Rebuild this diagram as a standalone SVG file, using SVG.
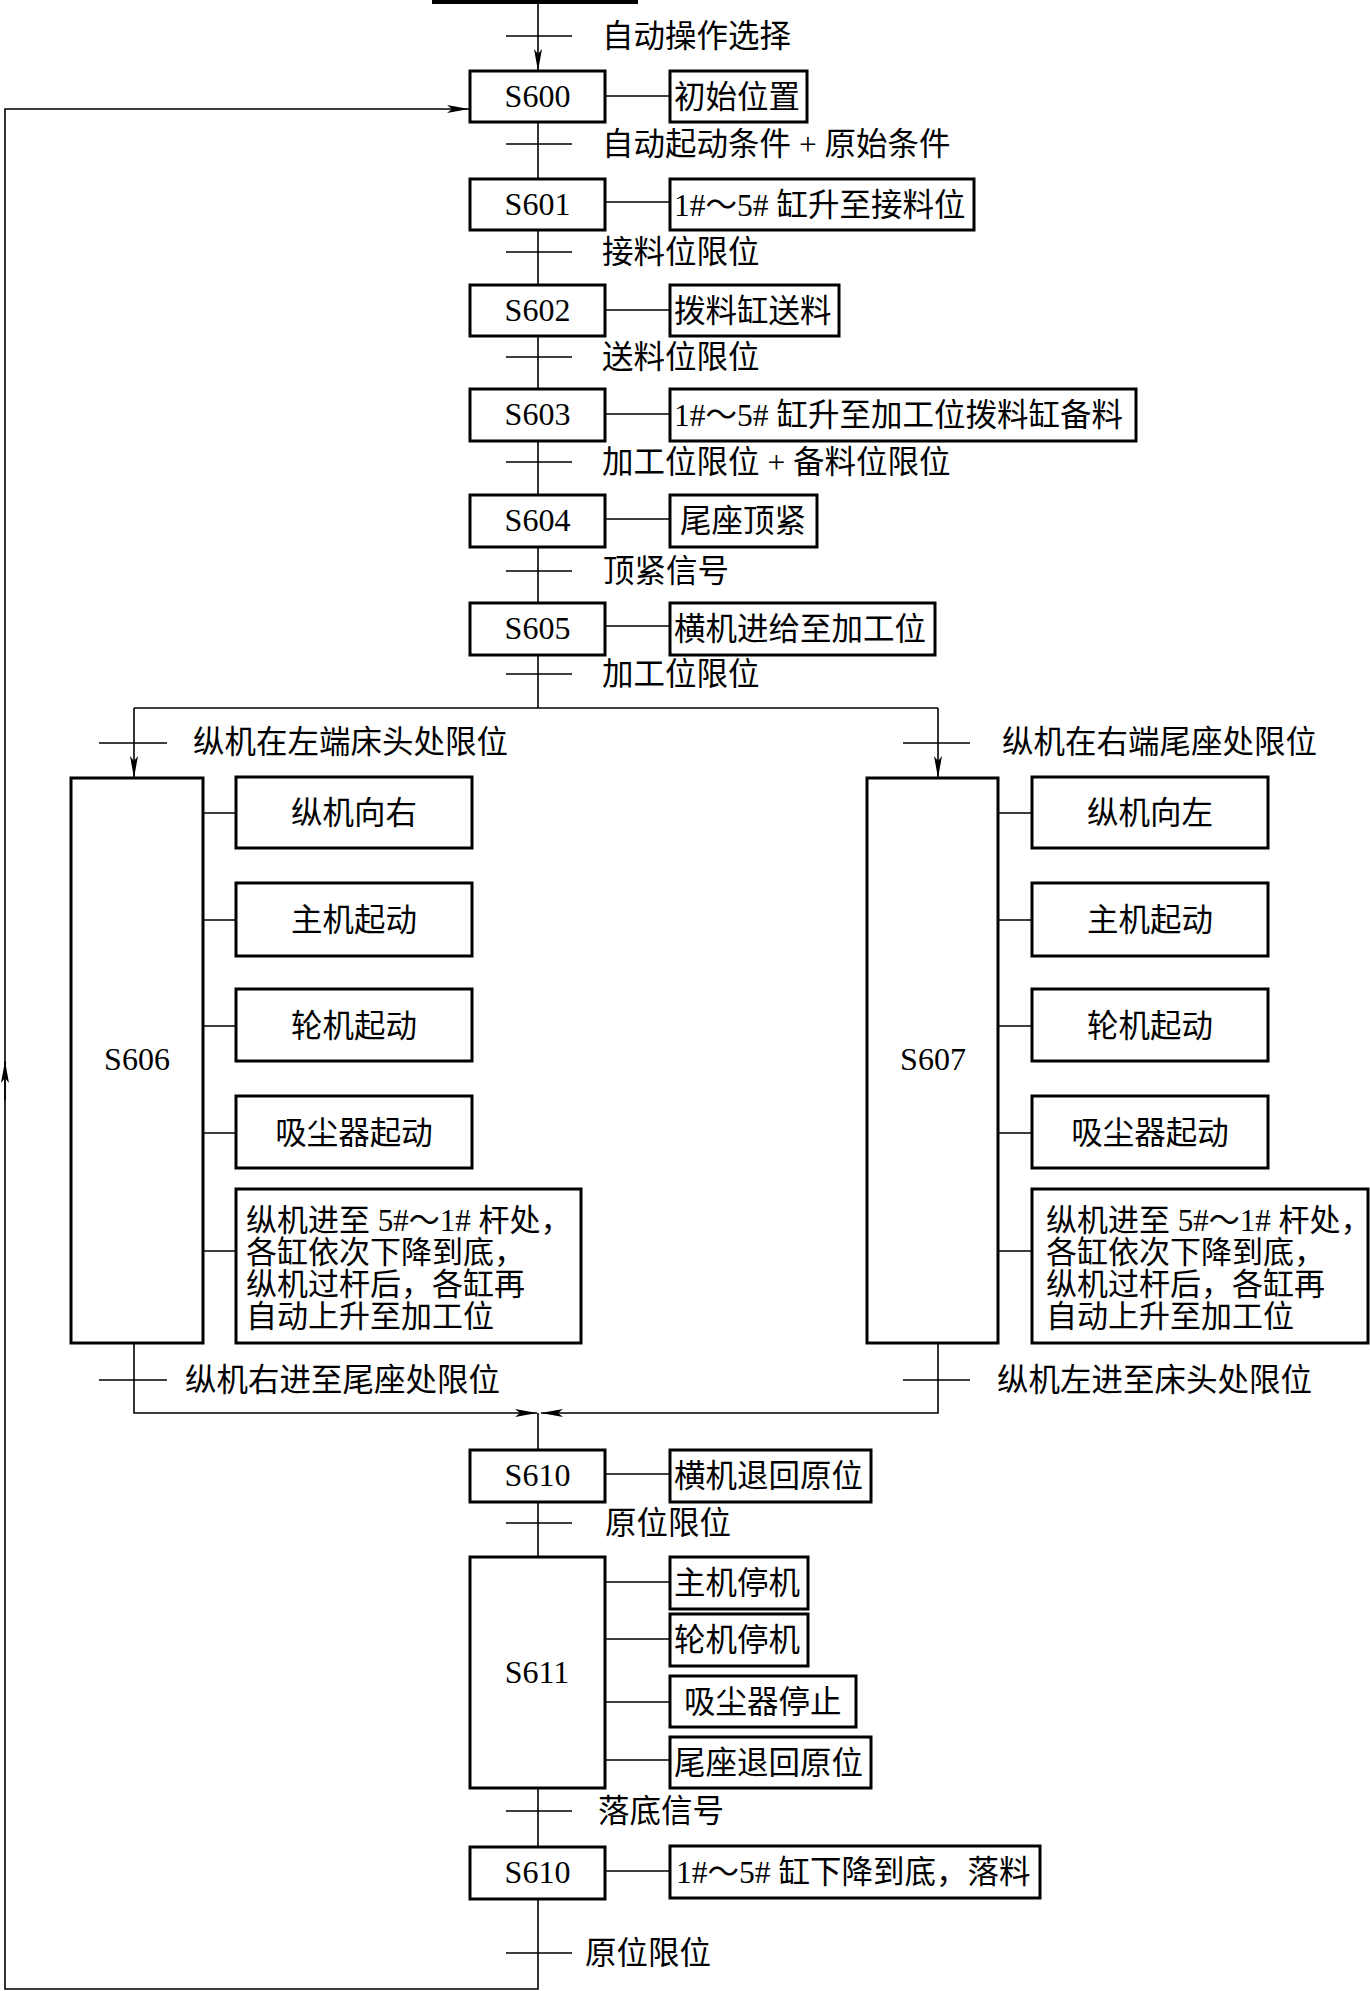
<svg xmlns="http://www.w3.org/2000/svg" width="1370" height="1991" viewBox="0 0 1370 1991">
<style>
.box{fill:#fff;stroke:#000;stroke-width:3}
.ln{stroke:#000;stroke-width:1.6;fill:none}
.t{font-family:'Liberation Serif','Noto Sans CJK SC',serif;font-size:31.5px;fill:#000}
.s{font-family:'Liberation Serif','Noto Sans CJK SC',serif;font-size:32px;fill:#000;text-anchor:middle}
.c{text-anchor:middle}
.m{font-size:31px}
</style>
<defs>
<marker id="ar" viewBox="0 0 22 10" refX="22" refY="5" markerWidth="22" markerHeight="10" markerUnits="userSpaceOnUse" orient="auto">
<path d="M0,1 L22,5 L0,9 L5,5 Z" fill="#000"/>
</marker>
</defs>
<rect width="1370" height="1991" fill="#fff"/>
<g id="connectors">
<line x1="432" y1="2" x2="638" y2="2" stroke="#000" stroke-width="4"/>
<path class="ln" d="M538,2 V71" marker-end="url(#ar)"/>
<path class="ln" d="M538,122 V708"/>
<path class="ln" d="M134,708 H938"/>
<path class="ln" d="M134,708 V778" marker-end="url(#ar)"/>
<path class="ln" d="M938,708 V778" marker-end="url(#ar)"/>
<path class="ln" d="M134,1343 V1413 H537" marker-end="url(#ar)"/>
<path class="ln" d="M938,1343 V1413 H541" marker-end="url(#ar)"/>
<path class="ln" d="M538,1413 V1989 H5 V109 H469" marker-end="url(#ar)"/>
<path class="ln" d="M5,1100 V1061" marker-end="url(#ar)"/>
<path class="ln" d="M605,96 H670 M605,202 H670 M605,310 H670 M605,414 H670 M605,519 H670 M605,626 H670 M605,1474 H670 M605,1582 H670 M605,1639 H670 M605,1702 H670 M605,1760 H670 M605,1871 H670"/>
<path class="ln" d="M203,813 H236 M203,920 H236 M203,1026 H236 M203,1133 H236 M203,1251 H236"/>
<path class="ln" d="M998,813 H1032 M998,920 H1032 M998,1026 H1032 M998,1133 H1032 M998,1251 H1032"/>
<path class="ln" d="M506,36 H572 M506,144 H572 M506,252 H572 M506,357 H572 M506,462 H572 M506,571 H572 M506,674 H572 M506,1523 H572 M506,1811 H572 M506,1953 H572"/>
<path class="ln" d="M99,743 H167 M903,743 H970 M99,1380 H167 M903,1380 H970"/>
</g>
<g id="transitions">
<text class="t" x="602" y="47">自动操作选择</text>
<text class="t" x="602" y="155">自动起动条件 + 原始条件</text>
<text class="t" x="602" y="263">接料位限位</text>
<text class="t" x="602" y="368">送料位限位</text>
<text class="t" x="602" y="473">加工位限位 + 备料位限位</text>
<text class="t" x="603" y="582">顶紧信号</text>
<text class="t" x="602" y="685">加工位限位</text>
<text class="t" x="193" y="753">纵机在左端床头处限位</text>
<text class="t" x="1002" y="753">纵机在右端尾座处限位</text>
<text class="t" x="185" y="1391">纵机右进至尾座处限位</text>
<text class="t" x="997" y="1391">纵机左进至床头处限位</text>
<text class="t" x="605" y="1534">原位限位</text>
<text class="t" x="598" y="1822">落底信号</text>
<text class="t" x="585" y="1964">原位限位</text>
</g>
<g id="S600"><rect class="box" x="470" y="71" width="135" height="51"/><text class="s" x="537.5" y="107">S600</text></g>
<g id="A600"><rect class="box" x="670" y="71" width="137" height="51"/><text class="t" x="674" y="108">初始位置</text></g>
<g id="S601"><rect class="box" x="470" y="179" width="135" height="51"/><text class="s" x="537.5" y="215">S601</text></g>
<g id="A601"><rect class="box" x="670" y="179" width="304" height="51"/><text class="t" x="674" y="216">1#～5# 缸升至接料位</text></g>
<g id="S602"><rect class="box" x="470" y="285" width="135" height="51"/><text class="s" x="537.5" y="321">S602</text></g>
<g id="A602"><rect class="box" x="670" y="285" width="169" height="51"/><text class="t" x="674" y="322">拨料缸送料</text></g>
<g id="S603"><rect class="box" x="470" y="389" width="135" height="52"/><text class="s" x="537.5" y="425">S603</text></g>
<g id="A603"><rect class="box" x="670" y="389" width="466" height="52"/><text class="t" x="674" y="426">1#～5# 缸升至加工位拨料缸备料</text></g>
<g id="S604"><rect class="box" x="470" y="495" width="135" height="52"/><text class="s" x="537.5" y="531">S604</text></g>
<g id="A604"><rect class="box" x="670" y="495" width="147" height="52"/><text class="t" x="680" y="532">尾座顶紧</text></g>
<g id="S605"><rect class="box" x="470" y="603" width="135" height="52"/><text class="s" x="537.5" y="639">S605</text></g>
<g id="A605"><rect class="box" x="670" y="603" width="265" height="52"/><text class="t" x="674" y="640">横机进给至加工位</text></g>
<g id="S606"><rect class="box" x="71" y="778" width="132" height="565"/><text class="s" x="137" y="1070">S606</text></g>
<g id="A606-1"><rect class="box" x="236" y="777" width="236" height="71"/><text class="t c" x="354" y="824">纵机向右</text></g>
<g id="A606-2"><rect class="box" x="236" y="883" width="236" height="73"/><text class="t c" x="354" y="931">主机起动</text></g>
<g id="A606-3"><rect class="box" x="236" y="989" width="236" height="72"/><text class="t c" x="354" y="1037">轮机起动</text></g>
<g id="A606-4"><rect class="box" x="236" y="1096" width="236" height="72"/><text class="t c" x="354" y="1144">吸尘器起动</text></g>
<g id="A606-5"><rect class="box" x="236" y="1189" width="345" height="154"/>
<text class="t m" x="246" y="1231">纵机进至 5#～1# 杆处，</text>
<text class="t m" x="246" y="1263">各缸依次下降到底，</text>
<text class="t m" x="246" y="1295">纵机过杆后，各缸再</text>
<text class="t m" x="246" y="1327">自动上升至加工位</text></g>
<g id="S607"><rect class="box" x="867" y="778" width="131" height="565"/><text class="s" x="933" y="1070">S607</text></g>
<g id="A607-1"><rect class="box" x="1032" y="777" width="236" height="71"/><text class="t c" x="1150" y="824">纵机向左</text></g>
<g id="A607-2"><rect class="box" x="1032" y="883" width="236" height="73"/><text class="t c" x="1150" y="931">主机起动</text></g>
<g id="A607-3"><rect class="box" x="1032" y="989" width="236" height="72"/><text class="t c" x="1150" y="1037">轮机起动</text></g>
<g id="A607-4"><rect class="box" x="1032" y="1096" width="236" height="72"/><text class="t c" x="1150" y="1144">吸尘器起动</text></g>
<g id="A607-5"><rect class="box" x="1032" y="1189" width="336" height="154"/>
<text class="t m" x="1046" y="1231">纵机进至 5#～1# 杆处，</text>
<text class="t m" x="1046" y="1263">各缸依次下降到底，</text>
<text class="t m" x="1046" y="1295">纵机过杆后，各缸再</text>
<text class="t m" x="1046" y="1327">自动上升至加工位</text></g>
<g id="S610"><rect class="box" x="470" y="1450" width="135" height="52"/><text class="s" x="537.5" y="1486">S610</text></g>
<g id="A610"><rect class="box" x="670" y="1450" width="201" height="52"/><text class="t" x="674" y="1487">横机退回原位</text></g>
<g id="S611"><rect class="box" x="470" y="1557" width="135" height="231"/><text class="s" x="537" y="1683">S611</text></g>
<g id="A611-1"><rect class="box" x="670" y="1557" width="138" height="52"/><text class="t" x="674" y="1594">主机停机</text></g>
<g id="A611-2"><rect class="box" x="670" y="1614" width="138" height="52"/><text class="t" x="674" y="1651">轮机停机</text></g>
<g id="A611-3"><rect class="box" x="670" y="1676" width="186" height="51"/><text class="t" x="684" y="1713">吸尘器停止</text></g>
<g id="A611-4"><rect class="box" x="670" y="1737" width="201" height="51"/><text class="t" x="674" y="1774">尾座退回原位</text></g>
<g id="S610b"><rect class="box" x="470" y="1847" width="135" height="52"/><text class="s" x="537.5" y="1883">S610</text></g>
<g id="A610b"><rect class="box" x="670" y="1846" width="370" height="52"/><text class="t" x="676" y="1883">1#～5# 缸下降到底，落料</text></g>
</svg>
